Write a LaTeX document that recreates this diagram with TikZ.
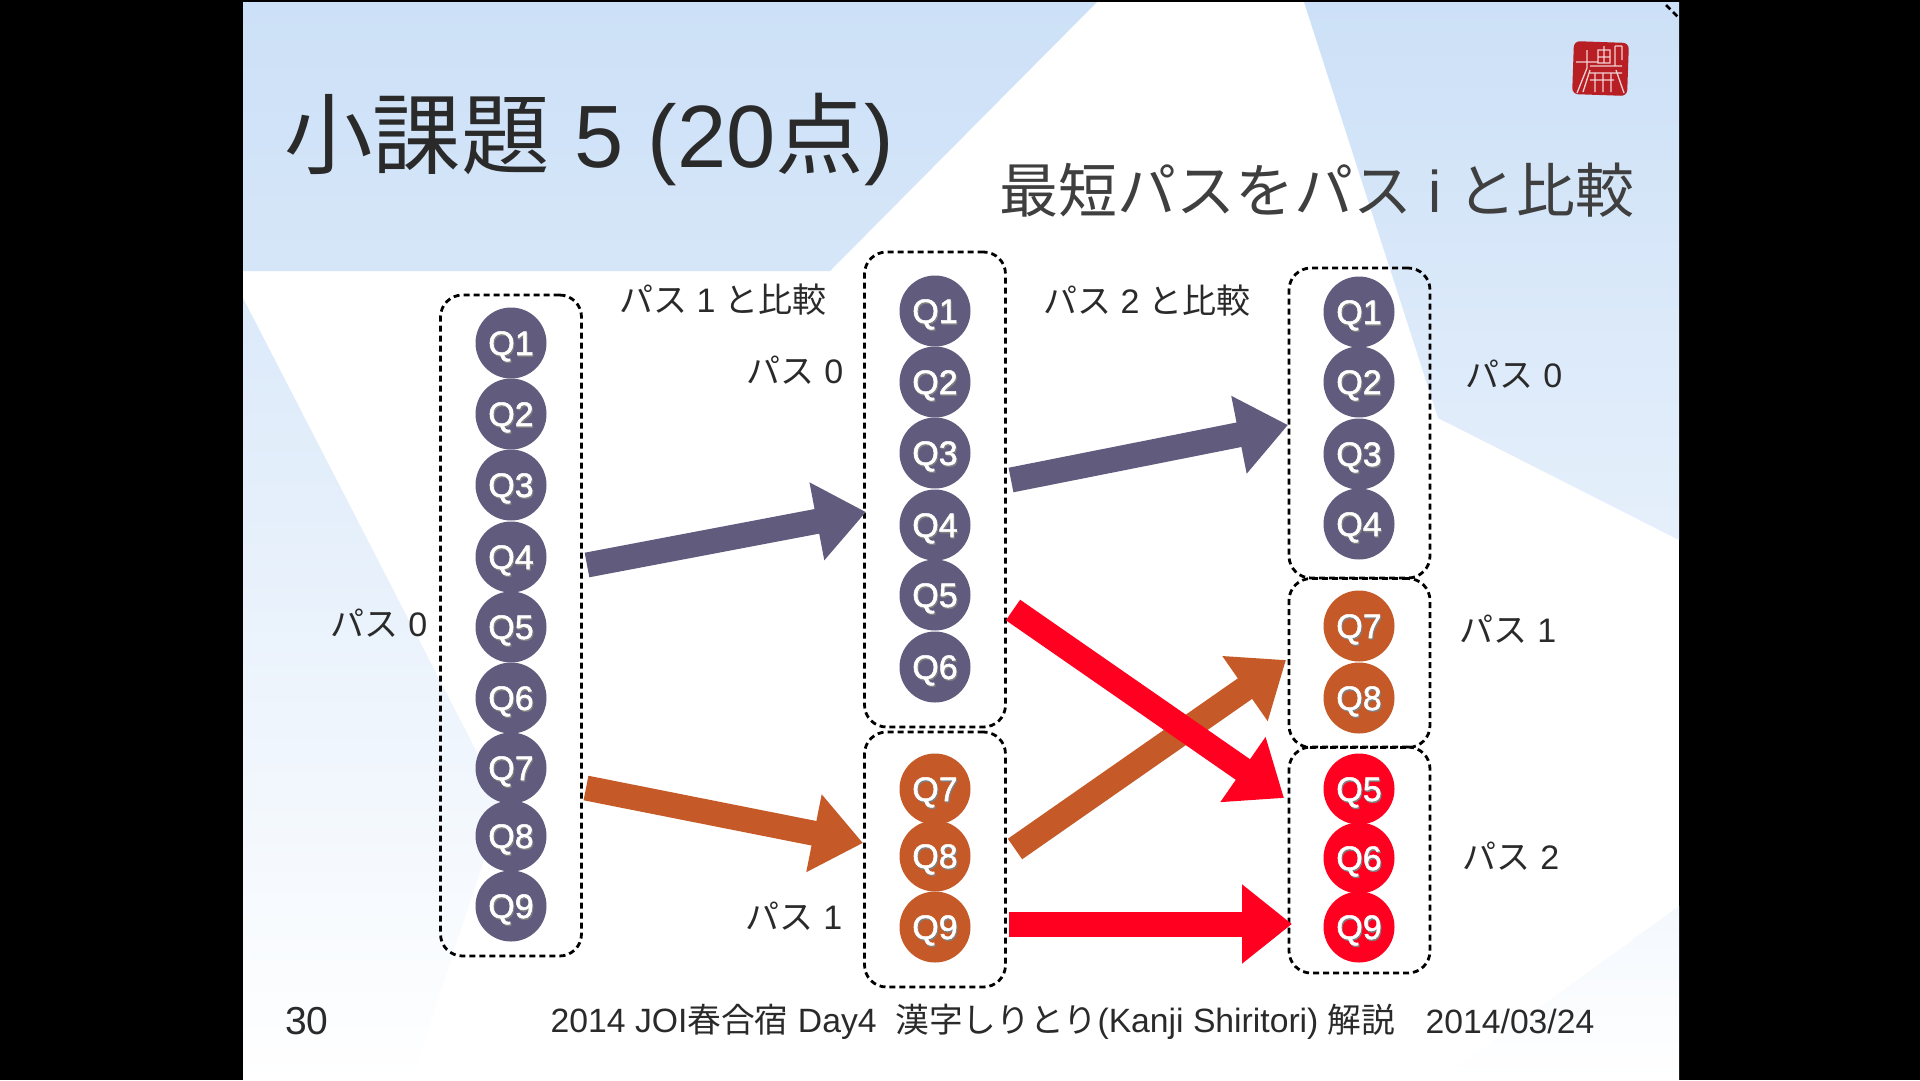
\documentclass[tikz,border=0pt]{standalone}
\usepackage{fontspec}
\setmainfont{Liberation Sans}
\newfontfamily\cjk{Noto Sans CJK JP}
\newfontfamily\qfont[FakeBold=1.5]{Liberation Sans}
\usetikzlibrary{arrows.meta}
\definecolor{slideblue}{HTML}{CCE0F7}
\definecolor{pathzero}{HTML}{615B7E}
\definecolor{pathone}{HTML}{C55A28}
\definecolor{pathtwo}{HTML}{FF0021}
\definecolor{inktext}{HTML}{2A2A2A}
\definecolor{sealred}{HTML}{B81F24}
\newcommand{\qlabel}[1]{\makebox[0pt][l]{\hspace{1pt}\raisebox{-1.5pt}{\textcolor{black!50}{#1}}}#1}
\tikzset{
  qnode/.style={circle, minimum size=71pt, inner sep=0pt, text=white, text height=24pt, text depth=0pt, font=\qfont\fontsize{34}{34}\selectfont},
  qzero/.style={qnode, fill=pathzero},
  qone/.style={qnode, fill=pathone},
  qtwo/.style={qnode, fill=pathtwo},
  groupbox/.style={draw=black, line width=2.8pt, rounded corners=22pt, dash pattern=on 6pt off 4pt, minimum width=141pt, inner sep=0pt},
  pathlabel/.style={inner sep=0pt, text=inktext, font=\fontsize{34}{34}\selectfont},
  footlabel/.style={inner sep=0pt, text=inktext, font=\fontsize{33.7}{34}\selectfont},
  bigarrow/.style={line width=25pt, -{Triangle[length=50pt,width=76pt]}}
}
\begin{document}
\begin{tikzpicture}[x=1pt, y=-1pt]
    \useasboundingbox (0,0) rectangle (1920,1080);

    % slide
    \fill[black] (0,0) rectangle (1920,1080);
    \fill[white] (243,2) rectangle (1679,1080);
    \shade[top color=slideblue, bottom color=slideblue!80!white] (243,2) -- (1097,2) -- (830,271) -- (243,271) -- cycle;
    \shade[top color=slideblue, bottom color=slideblue!50!white] (1304,2) -- (1679,2) -- (1679,540) -- (1438,418) -- cycle;
    \shade[top color=slideblue!70!white, bottom color=white] (243,298) -- (503,803) -- (411,1080) -- (243,1080) -- cycle;
    \shade[top color=slideblue!22!white, bottom color=white] (1679,906) -- (1440,1080) -- (1679,1080) -- cycle;
    \draw[black, line width=2.8pt, dash pattern=on 6pt off 4pt] (1666,5) -- (1679,18);

    % seal
    \fill[sealred, rounded corners=6pt, rotate around={-2:(1600,69)}] (1573,42) rectangle (1628,95);
    \draw[white, line width=1.3pt, opacity=0.8]
        (1587,50) -- (1587,68) -- (1577,93) (1576,62) -- (1597,62) (1590,70) -- (1583,92)
        (1598,50) rectangle (1610,63) (1604,46) -- (1604,63) (1598,57) -- (1610,57)
        (1590,66) -- (1622,66) (1590,73) -- (1622,73) (1590,80) -- (1614,80)
        (1595,73) -- (1595,92) (1603,73) -- (1603,92) (1611,73) -- (1611,92)
        (1615,46) -- (1615,65) (1622,46) -- (1622,60) (1615,46) -- (1622,46) (1616,70) -- (1624,93);

    % titles
    \node[inner sep=0pt, text=inktext, font=\fontsize{88.5}{88.5}\selectfont] (title) at (589,139) {{\cjk 小課題} 5 (20{\cjk 点})};
    \node[inner sep=0pt, text=inktext!90!white, font=\fontsize{58.9}{58.9}\selectfont] (subtitle) at (1317,190) {{\cjk 最短パスをパス} i {\cjk と比較}};
    \node[pathlabel] (compare_one) at (723,300) {{\cjk パス} 1 {\cjk と比較}};
    \node[pathlabel] (compare_two) at (1147,301) {{\cjk パス} 2 {\cjk と比較}};

    % groups
    \node[groupbox, minimum height=661pt] (left_box) at (511,625.5) {};
    \node[groupbox, minimum height=475pt] (mid_box_zero) at (935,489.5) {};
    \node[groupbox, minimum height=255pt] (mid_box_one) at (935,859.5) {};
    \node[groupbox, minimum height=310pt] (right_box_zero) at (1359.5,423) {};
    \node[groupbox, minimum height=169pt] (right_box_one) at (1359.5,663) {};
    \node[groupbox, minimum height=226pt] (right_box_two) at (1359.5,860) {};

    % left column
    \node[qzero] (left_q1) at (511,343) {\qlabel{Q1}};
    \node[qzero] (left_q2) at (511,414) {\qlabel{Q2}};
    \node[qzero] (left_q3) at (511,485) {\qlabel{Q3}};
    \node[qzero] (left_q4) at (511,557) {\qlabel{Q4}};
    \node[qzero] (left_q5) at (511,627) {\qlabel{Q5}};
    \node[qzero] (left_q6) at (511,698) {\qlabel{Q6}};
    \node[qzero] (left_q7) at (511,768) {\qlabel{Q7}};
    \node[qzero] (left_q8) at (511,836) {\qlabel{Q8}};
    \node[qzero] (left_q9) at (511,906) {\qlabel{Q9}};

    % middle column
    \node[qzero] (mid_q1) at (935,311) {\qlabel{Q1}};
    \node[qzero] (mid_q2) at (935,382) {\qlabel{Q2}};
    \node[qzero] (mid_q3) at (935,453) {\qlabel{Q3}};
    \node[qzero] (mid_q4) at (935,525) {\qlabel{Q4}};
    \node[qzero] (mid_q5) at (935,595) {\qlabel{Q5}};
    \node[qzero] (mid_q6) at (935,667) {\qlabel{Q6}};
    \node[qone] (mid_q7) at (935,789) {\qlabel{Q7}};
    \node[qone] (mid_q8) at (935,856) {\qlabel{Q8}};
    \node[qone] (mid_q9) at (935,927) {\qlabel{Q9}};

    % right column
    \node[qzero] (right_q1) at (1359,312) {\qlabel{Q1}};
    \node[qzero] (right_q2) at (1359,382) {\qlabel{Q2}};
    \node[qzero] (right_q3) at (1359,454) {\qlabel{Q3}};
    \node[qzero] (right_q4) at (1359,524) {\qlabel{Q4}};
    \node[qone] (right_q7) at (1359,626) {\qlabel{Q7}};
    \node[qone] (right_q8) at (1359,698) {\qlabel{Q8}};
    \node[qtwo] (right_q5) at (1359,789) {\qlabel{Q5}};
    \node[qtwo] (right_q6) at (1359,858) {\qlabel{Q6}};
    \node[qtwo] (right_q9) at (1359,927) {\qlabel{Q9}};

    % path labels
    \node[pathlabel] (left_zero) at (379,623.5) {{\cjk パス} 0};
    \node[pathlabel] (mid_zero) at (795,370.5) {{\cjk パス} 0};
    \node[pathlabel] (mid_one) at (794,916.5) {{\cjk パス} 1};
    \node[pathlabel] (right_zero) at (1514,374.5) {{\cjk パス} 0};
    \node[pathlabel] (right_one) at (1508,629.5) {{\cjk パス} 1};
    \node[pathlabel] (right_two) at (1511,856.5) {{\cjk パス} 2};

    % arrow ends
    \coordinate (left_zero_out) at (587,565);
    \coordinate (mid_zero_in) at (866,512);
    \coordinate (left_one_out) at (586,788);
    \coordinate (mid_one_in) at (863,843);
    \coordinate (mid_zero_out) at (1011,480);
    \coordinate (right_zero_in) at (1288,425);
    \coordinate (mid_one_out) at (1015,849);
    \coordinate (right_one_in) at (1286,660);
    \coordinate (mid_two_out) at (1013,610);
    \coordinate (right_two_in) at (1284,798);
    \coordinate (mid_nine_out) at (1009,924);
    \coordinate (right_nine_in) at (1292,924);

    % arrows
    \draw[bigarrow, pathzero] (left_zero_out) -- (mid_zero_in);
    \draw[bigarrow, pathone] (left_one_out) -- (mid_one_in);
    \draw[bigarrow, pathzero] (mid_zero_out) -- (right_zero_in);
    \draw[bigarrow, pathone] (mid_one_out) -- (right_one_in);
    \draw[bigarrow, pathtwo] (mid_two_out) -- (right_two_in);
    \draw[bigarrow, pathtwo] (mid_nine_out) -- (right_nine_in);

    % footer
    \node[footlabel, font=\fontsize{39}{39}\selectfont] (page_no) at (307,1021) {30};
    \node[footlabel] (foot_text) at (973,1022) {2014 JOI{\cjk 春合宿} Day4\ \ {\cjk 漢字しりとり}(Kanji Shiritori) {\cjk 解説}};
    \node[footlabel] (foot_date) at (1510,1021) {2014/03/24};
\end{tikzpicture}
\end{document}
